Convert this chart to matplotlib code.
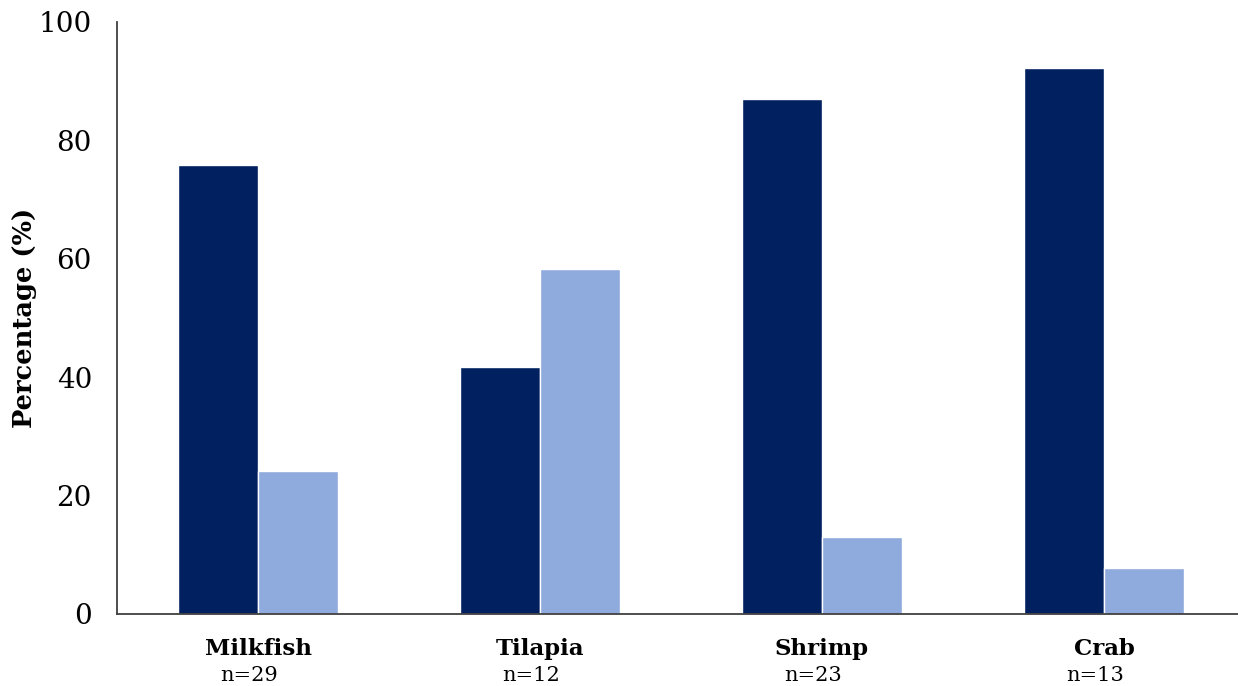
import matplotlib
matplotlib.use("Agg")
import matplotlib.pyplot as plt
import numpy as np

categories = ["Milkfish", "Tilapia", "Shrimp", "Crab"]
sample_sizes = ["n=29", "n=12", "n=23", "n=13"]
series_dark = [75.9, 41.7, 87.0, 92.3]
series_light = [24.1, 58.3, 13.0, 7.7]
yticks = [0, 20, 40, 60, 80, 100]

DARK = "#002060"
LIGHT = "#8FAADC"
FONT = "DejaVu Serif"

fig = plt.figure(figsize=(12.38, 6.86), dpi=100)
ax = fig.add_axes([117 / 1238, 1 - 614 / 686, 1 - 117 / 1238, (614 - 22) / 686])

x = np.arange(len(categories))
w = 0.284
ax.bar(x - w / 2, series_dark, width=w, color=DARK, edgecolor="white", linewidth=1)
ax.bar(x + w / 2, series_light, width=w, color=LIGHT, edgecolor="white", linewidth=1)

ax.set_xlim(-0.5, 3.475)
ax.set_ylim(0, 100)
ax.set_yticks(yticks)
ax.set_yticklabels([str(v) for v in yticks], fontsize=20, family=FONT)
ax.tick_params(axis="y", length=0, pad=18)
ax.set_xticks([])

for s in ["top", "right"]:
    ax.spines[s].set_visible(False)
for s in ["left", "bottom"]:
    ax.spines[s].set_color("#404040")
    ax.spines[s].set_linewidth(1.3)

trans = ax.get_xaxis_transform()
for xi, name, n in zip(x, categories, sample_sizes):
    ax.text(xi, -0.04, name, transform=trans, ha="center", va="top",
            fontsize=16.5, fontweight="bold", family=FONT)
    ax.text(xi - 0.03, -0.088, n, transform=trans, ha="center", va="top",
            fontsize=15, family=FONT)

fig.text(25 / 1238, 1 - 318 / 686, "Percentage (%)", rotation=90, ha="center",
         va="center", fontsize=18.5, fontweight="bold", family=FONT)

fig.savefig("out.png", dpi=100)
